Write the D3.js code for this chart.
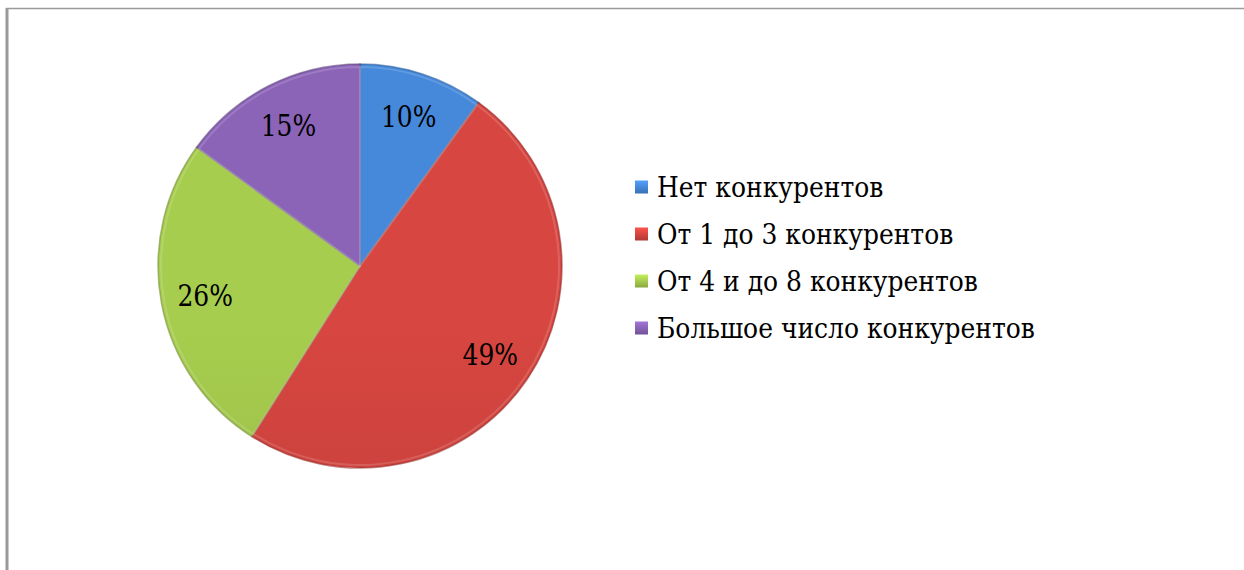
<!DOCTYPE html>
<html>
<head>
<meta charset="utf-8">
<script src="https://cdn.jsdelivr.net/npm/d3@7"></script>
<style>
  body { margin: 0; background: #fff; }
  svg { display: block; }
  text { font-family: "DejaVu Serif", serif; }
</style>
</head>
<body>
<svg id="chart" width="1244" height="570"></svg>
<script>
// data
var categories = ['Нет конкурентов', 'От 1 до 3 конкурентов', 'От 4 и до 8 конкурентов', 'Большое число конкурентов'];
var values = [10, 49, 26, 15];
var colors = ['#4282cf', '#cc423d', '#9ec24a', '#845fae'];

var width = 1244, height = 570;
var cx = 360, cy = 266, radius = 202;

var svg = d3.select('#chart');

// frame: left and top edge of the box
svg.append('line').attr('x1', 7).attr('y1', 8).attr('x2', 7).attr('y2', height)
  .attr('stroke', '#9a9a9a').attr('stroke-width', 3);
svg.append('line').attr('x1', 6).attr('y1', 8.5).attr('x2', width).attr('y2', 8.5)
  .attr('stroke', '#9a9a9a').attr('stroke-width', 1.5);
// descender of cut-off text above the box
svg.append('text').attr('x', 1152).attr('y', -5)
  .attr('font-size', 26).text('у');

var defs = svg.append('defs');
colors.forEach(function (c, i) {
  // light from the top, darker toward the bottom
  var g = defs.append('linearGradient').attr('id', 'g' + i)
    .attr('gradientUnits', 'userSpaceOnUse')
    .attr('x1', 0).attr('y1', cy - radius).attr('x2', 0).attr('y2', cy + radius);
  g.append('stop').attr('offset', '0%').attr('stop-color', d3.color(c).brighter(0.15));
  g.append('stop').attr('offset', '40%').attr('stop-color', c);
  g.append('stop').attr('offset', '100%').attr('stop-color', d3.color(c).darker(0.55));

  var lg = defs.append('linearGradient').attr('id', 'm' + i)
    .attr('x1', 0).attr('y1', 0).attr('x2', 0).attr('y2', 1);
  lg.append('stop').attr('offset', '0%').attr('stop-color', d3.color(c).brighter(0.6));
  lg.append('stop').attr('offset', '100%').attr('stop-color', d3.color(c).darker(0.4));
});

var pie = d3.pie().sort(null).value(function (d) { return d; });
var arc = d3.arc().innerRadius(0).outerRadius(radius);
var bevel = d3.arc().innerRadius(0).outerRadius(radius - 3);
var labelArc = d3.arc().innerRadius(radius * 0.78).outerRadius(radius * 0.78);

var g = svg.append('g').attr('transform', 'translate(' + cx + ',' + cy + ')');
var arcs = pie(values);

g.selectAll('path.slice').data(arcs).enter().append('path')
  .attr('class', 'slice')
  .attr('d', arc)
  .attr('fill', function (d, i) { return 'url(#g' + i + ')'; })
  .attr('stroke', function (d, i) { return d3.color(colors[i]).darker(1); })
  .attr('stroke-opacity', 0.55)
  .attr('stroke-width', 1.5);

// soft highlight just inside each slice edge
g.selectAll('path.bevel').data(arcs).enter().append('path')
  .attr('class', 'bevel')
  .attr('d', bevel)
  .attr('fill', 'none')
  .attr('stroke', '#fff')
  .attr('stroke-opacity', 0.15)
  .attr('stroke-width', 2);

g.selectAll('text.lbl').data(arcs).enter().append('text')
  .attr('class', 'lbl')
  .attr('transform', function (d) { return 'translate(' + labelArc.centroid(d) + ') scale(1,1.2)'; })
  .attr('text-anchor', 'middle')
  .attr('dy', '0.36em')
  .attr('font-size', 25)
  .attr('fill', '#000')
  .text(function (d) { return d.data + '%'; });

// legend
var legY = d3.scalePoint().domain(categories).range([187, 328]);
var leg = svg.append('g');
var item = leg.selectAll('g').data(categories).enter().append('g')
  .attr('transform', function (d) { return 'translate(635,' + legY(d) + ')'; });
item.append('rect').attr('x', 0).attr('y', -6.5).attr('width', 13).attr('height', 13)
  .attr('fill', function (d, i) { return 'url(#m' + i + ')'; });
item.append('text')
  .attr('transform', 'translate(22,10) scale(1,1.1)')
  .attr('font-size', 25)
  .attr('fill', '#000')
  .text(function (d) { return d; });
</script>
</body>
</html>
